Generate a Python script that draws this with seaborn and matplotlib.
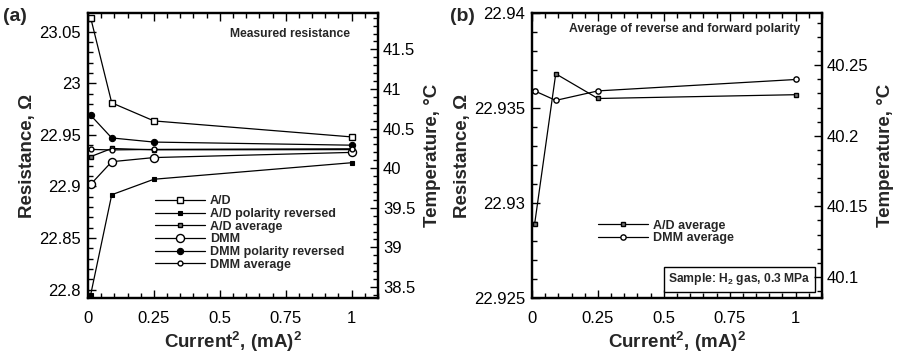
import numpy as np
import pandas as pd
import matplotlib
matplotlib.use("Agg")
import matplotlib.pyplot as plt
from matplotlib.ticker import MultipleLocator, FixedLocator
import seaborn as sns

sns.set_style("ticks")
plt.rcParams['font.family'] = ['Liberation Sans', 'DejaVu Sans']
plt.rcParams['mathtext.fontset'] = 'custom'
plt.rcParams['mathtext.rm'] = 'Liberation Sans'
plt.rcParams['mathtext.bf'] = 'Liberation Sans:bold'
plt.rcParams.update({
    'xtick.direction': 'in', 'ytick.direction': 'in',
    'xtick.color': 'black', 'ytick.color': 'black',
    'xtick.minor.visible': True, 'ytick.minor.visible': True,
    'xtick.major.size': 6, 'ytick.major.size': 6,
    'xtick.minor.size': 3.5, 'ytick.minor.size': 3.5,
    'xtick.major.width': 1.0, 'ytick.major.width': 1.0,
    'xtick.minor.width': 1.0, 'ytick.minor.width': 1.0,
    'axes.edgecolor': 'black',
})

# ---- data ----
current_sq = [0.01, 0.09, 0.25, 1.0]
ad = [23.0635, 22.981, 22.9635, 22.948]
ad_rev = [22.795, 22.892, 22.907, 22.923]
ad_avg = [22.9289, 22.9368, 22.9355, 22.9357]
dmm = [22.902, 22.924, 22.928, 22.933]
dmm_rev = [22.969, 22.947, 22.943, 22.940]
dmm_avg = [22.9359, 22.9354, 22.9359, 22.9365]

series_a = [
    ("A/D", ad, dict(marker='s', markersize=4.2, markerfacecolor='white', markeredgewidth=1.0)),
    ("A/D polarity reversed", ad_rev, dict(marker='s', markersize=3.0, markerfacecolor='black', markeredgewidth=0.8)),
    ("A/D average", ad_avg, dict(marker='s', markersize=3.0, markerfacecolor='#777777', markeredgewidth=1.0)),
    ("DMM", dmm, dict(marker='o', markersize=5.8, markerfacecolor='white', markeredgewidth=1.0)),
    ("DMM polarity reversed", dmm_rev, dict(marker='o', markersize=4.5, markerfacecolor='black', markeredgewidth=0.8)),
    ("DMM average", dmm_avg, dict(marker='o', markersize=3.5, markerfacecolor='white', markeredgewidth=1.0)),
]
series_b = [
    ("A/D average", ad_avg, dict(marker='s', markersize=2.8, markerfacecolor='#777777', markeredgewidth=1.0)),
    ("DMM average", dmm_avg, dict(marker='o', markersize=3.8, markerfacecolor='white', markeredgewidth=1.0)),
]

fig = plt.figure(figsize=(8.97, 3.59), dpi=100)
axA = fig.add_axes([0.0981, 0.1699, 0.3233, 0.7939])
axB = fig.add_axes([0.5931, 0.1699, 0.3233, 0.7939])

def draw(ax, series):
    for name, vals, kw in series:
        df = pd.DataFrame({"x": current_sq, "y": vals})
        sns.lineplot(data=df, x="x", y="y", ax=ax, color='black', linewidth=0.9,
                     markeredgecolor='black', label=name, **kw)

draw(axA, series_a)
draw(axB, series_b)

tick_fs = 12
lab_fs = 13.5

def style_axes(ax, ylim, ymaj, ymin, tlim, tmaj, tmin, tfmt, yfmt):
    ax.set_xlim(0, 1.1)
    ax.set_ylim(*ylim)
    ax.xaxis.set_major_locator(FixedLocator([0, 0.25, 0.5, 0.75, 1.0]))
    ax.set_xticklabels(['0', '0.25', '0.5', '0.75', '1'])
    ax.xaxis.set_minor_locator(MultipleLocator(0.05))
    ax.yaxis.set_major_locator(FixedLocator(ymaj))
    ax.set_yticklabels([yfmt(v) for v in ymaj])
    ax.yaxis.set_minor_locator(MultipleLocator(ymin))
    ax.tick_params(axis='x', which='both', direction='in', top=True, bottom=True,
                   labelsize=tick_fs, pad=9)
    ax.tick_params(axis='y', which='both', direction='in', left=True, right=False,
                   labelsize=tick_fs, pad=5)
    for s in ax.spines.values():
        s.set_linewidth(1.6)
        s.set_visible(True)
    ax.set_xlabel(r'Current$^{\mathbf{2}}$, (mA)$^{\mathbf{2}}$', fontsize=lab_fs, fontweight='bold',
                  labelpad=3)
    ax.set_ylabel('Resistance, Ω', fontsize=lab_fs, fontweight='bold', labelpad=2)
    ax2 = ax.twinx()
    ax2.set_ylim(*tlim)
    ax2.yaxis.set_major_locator(FixedLocator(tmaj))
    ax2.set_yticklabels([tfmt(v) for v in tmaj])
    ax2.yaxis.set_minor_locator(MultipleLocator(tmin))
    ax2.tick_params(axis='y', which='both', direction='in', left=False, right=True,
                    labelsize=tick_fs)
    for s in ax2.spines.values():
        s.set_linewidth(1.6)
    ax2.set_ylabel('Temperature, °C', fontsize=lab_fs, fontweight='bold', labelpad=6)
    return ax2

def g(v):
    return ('%g' % v)

style_axes(axA, (22.792, 23.068), [22.8, 22.85, 22.9, 22.95, 23.0, 23.05], 0.01,
           (38.36, 41.96), [38.5, 39, 39.5, 40, 40.5, 41, 41.5], 0.1, g, g)
style_axes(axB, (22.925, 22.94), [22.925, 22.93, 22.935, 22.94], 0.001,
           (40.085, 40.287), [40.1, 40.15, 40.2, 40.25], 0.01, g, g)

# legends
legA = axA.legend(loc='upper left', bbox_to_anchor=(0.231, 0.36), frameon=False,
                  prop=dict(size=9, weight='bold'), handlelength=4.0,
                  labelspacing=0.05, handletextpad=0.4, borderaxespad=0, borderpad=0)
legB = axB.legend(loc='upper left', bbox_to_anchor=(0.228, 0.275), frameon=False,
                  prop=dict(size=9, weight='bold'), handlelength=4.0,
                  labelspacing=0.05, handletextpad=0.4, borderaxespad=0, borderpad=0)

axA.text(0.903, 0.925, 'Measured resistance', transform=axA.transAxes, ha='right', va='center',
         fontsize=8.7, fontweight='bold')
axB.text(0.925, 0.945, 'Average of reverse and forward polarity', transform=axB.transAxes,
         ha='right', va='center', fontsize=8.8, fontweight='bold')
axB.text(0.96, 0.065, r'Sample: H$_\mathbf{2}$ gas, 0.3 MPa', transform=axB.transAxes,
         ha='right', va='center', fontsize=8.7, fontweight='bold',
         bbox=dict(boxstyle='square,pad=0.35', facecolor='white', edgecolor='black', linewidth=1.0))

fig.text(0.003, 0.955, '(a)', fontsize=14, fontweight='bold', va='center', ha='left')
fig.text(0.502, 0.955, '(b)', fontsize=14, fontweight='bold', va='center', ha='left')

fig.savefig('out.png', dpi=100)
